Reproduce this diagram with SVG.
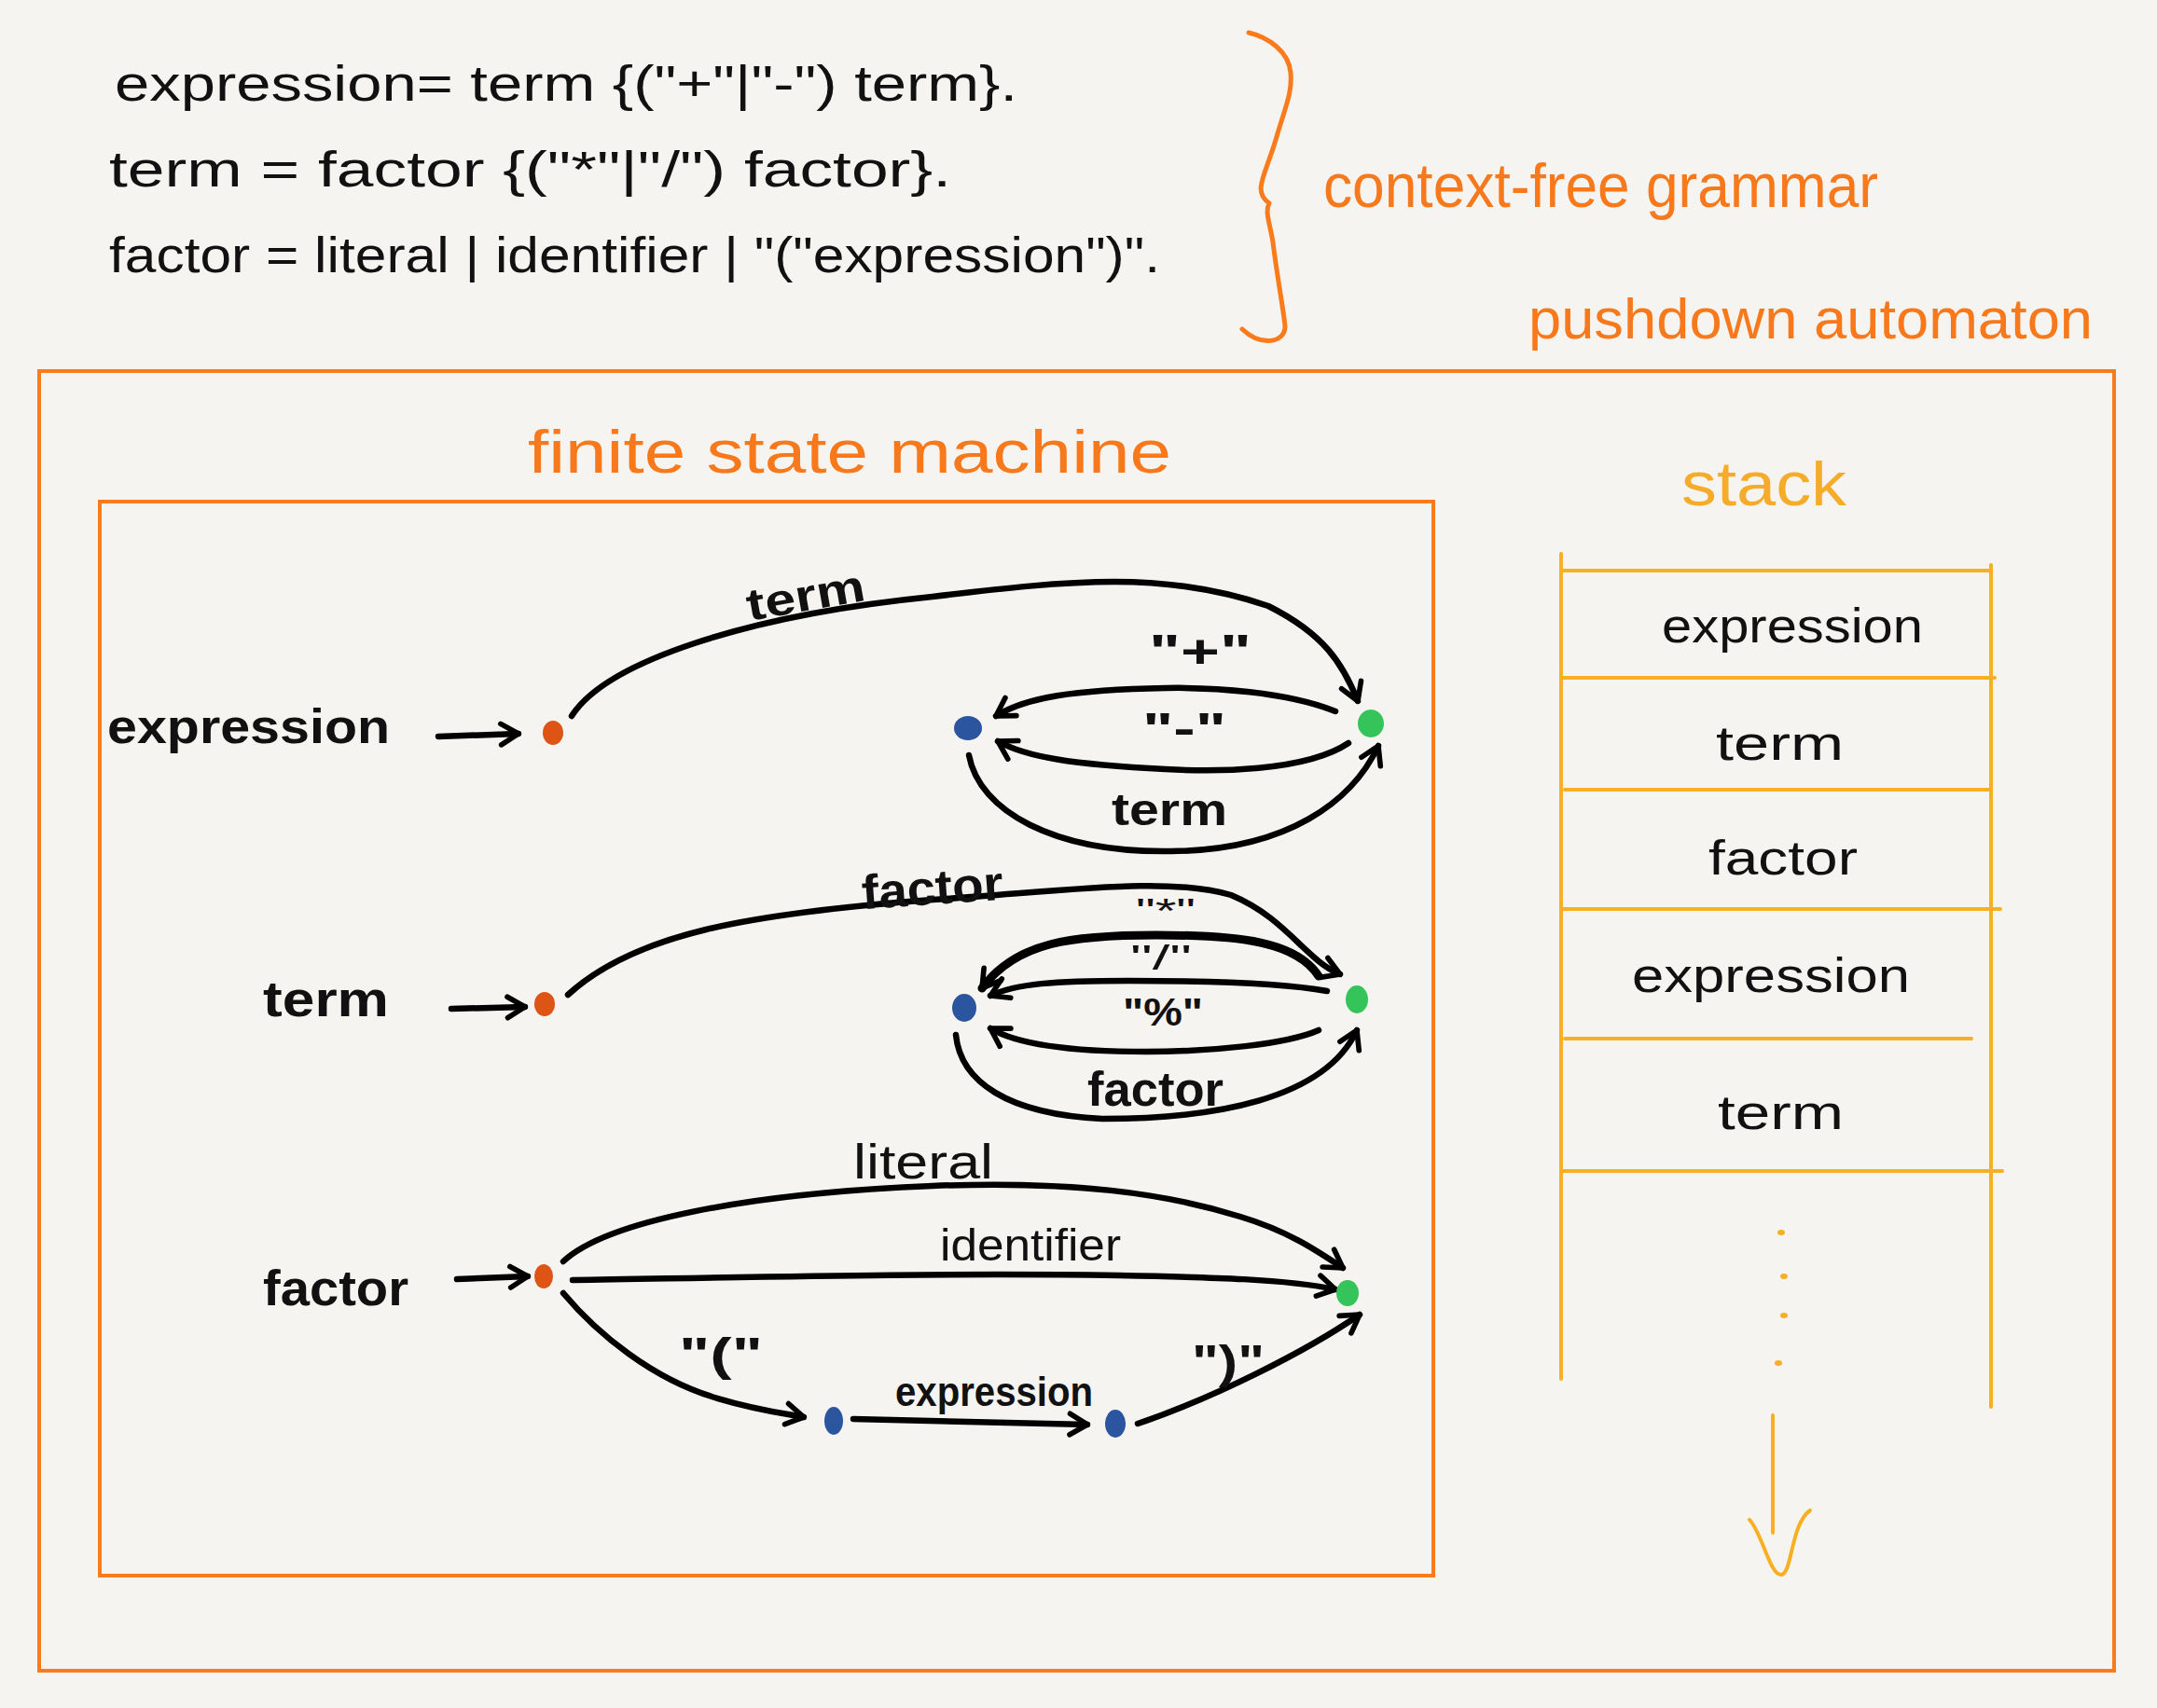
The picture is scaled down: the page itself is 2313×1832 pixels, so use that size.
<svg xmlns="http://www.w3.org/2000/svg" width="2313" height="1832" viewBox="0 0 2313 1832">
  <style>
    .hand { font-family: "Liberation Sans", "DejaVu Sans", sans-serif; }
    .blk { fill: #111; }
    .bold { font-weight: bold; }
    .org { fill: #f7791c; }
    .yel { fill: #f5ac2a; }
    .box { fill: none; stroke: #f97b1b; stroke-width: 4; }
    .stk { fill: none; stroke: #f7b024; stroke-width: 4; stroke-linecap: round; }
    .edge { fill: none; stroke: #000; stroke-width: 6.5; stroke-linecap: round; stroke-linejoin: round; marker-end: url(#ah); }
    .st-start { fill: #dd5414; }
    .st-mid { fill: #2b559e; }
    .st-end { fill: #35c45a; }
  </style>
  <defs>
    <marker id="ah" viewBox="0 0 24 24" refX="20" refY="12" markerWidth="30" markerHeight="30" markerUnits="userSpaceOnUse" orient="auto">
      <path d="M5,3 L20,12 L5,21" fill="none" stroke="#000" stroke-width="4.5" stroke-linecap="round" stroke-linejoin="round"/>
    </marker>
  </defs>
  <rect x="0" y="0" width="2313" height="1832" fill="#f5f4f0"/>

  <g id="grammar" class="hand blk" font-size="54">
    <text x="123" y="108" textLength="968" lengthAdjust="spacingAndGlyphs">expression= term {("+"|"-") term}.</text>
    <text x="117" y="200" textLength="903" lengthAdjust="spacingAndGlyphs">term = factor {("*"|"/") factor}.</text>
    <text x="117" y="292" textLength="1127" lengthAdjust="spacingAndGlyphs">factor = literal | identifier | "("expression")".</text>
  </g>

  <g id="brace">
    <path d="M1339,35 C1360,40 1382,55 1384,78 C1386,100 1378,115 1368,150 C1356,190 1343,205 1361,218 C1356,228 1362,240 1365,260 C1370,300 1376,330 1378,350 C1378,368 1352,372 1332,353" fill="none" stroke="#f97b1b" stroke-width="5" stroke-linecap="round" stroke-linejoin="round"/>
  </g>

  <g id="labels" class="hand">
    <text class="org" x="1419" y="222" font-size="66" textLength="595" lengthAdjust="spacingAndGlyphs">context-free grammar</text>
    <text class="org" x="1639" y="363" font-size="62" textLength="605" lengthAdjust="spacingAndGlyphs">pushdown automaton</text>
    <text class="org" x="566" y="507" font-size="64" textLength="690" lengthAdjust="spacingAndGlyphs">finite state machine</text>
    <text class="yel" x="1803" y="542" font-size="66" textLength="177" lengthAdjust="spacingAndGlyphs">stack</text>
  </g>

  <g id="pushdown-box">
    <rect class="box" x="42" y="398" width="2225" height="1394"/>
  </g>
  <g id="fsm-box">
    <rect class="box" x="107" y="538" width="1430" height="1152"/>
  </g>

  <g id="connectors">
    <!-- expression row -->
    <path class="edge" d="M470,790 L556,787"/>
    <path class="edge" d="M613,768 C650,710 800,660 1000,640 C1150,622 1250,612 1360,650 C1420,680 1440,712 1456,752"/>
    <path class="edge" d="M1432,763 C1380,742 1300,737 1250,738 C1150,740 1100,748 1068,768"/>
    <path class="edge" d="M1446,797 C1400,828 1300,828 1250,825 C1150,820 1100,812 1070,795"/>
    <path class="edge" d="M1039,810 C1050,870 1130,915 1256,913 C1380,912 1450,860 1478,800"/>
    <!-- term row -->
    <path class="edge" d="M484,1082 L563,1080"/>
    <path class="edge" d="M609,1067 C680,1002 800,980 1000,965 C1150,955 1250,940 1320,960 C1380,985 1400,1030 1437,1045"/>
    <path class="edge" style="stroke-width:9" d="M1414,1047 C1390,1010 1330,1003 1240,1003 C1150,1003 1090,1010 1053,1060"/>
    <path class="edge" d="M1423,1063 C1380,1055 1300,1052 1210,1052 C1130,1052 1090,1055 1062,1068"/>
    <path class="edge" d="M1414,1105 C1380,1120 1300,1128 1229,1128 C1150,1128 1090,1120 1062,1103"/>
    <path class="edge" d="M1025,1110 C1030,1160 1080,1195 1182,1200 C1300,1200 1420,1180 1455,1105"/>
    <!-- factor row -->
    <path class="edge" d="M490,1372 L566,1369"/>
    <path class="edge" d="M604,1353 C650,1310 800,1280 1000,1272 C1150,1266 1250,1280 1330,1305 C1380,1320 1410,1340 1440,1360"/>
    <path class="edge" d="M614,1373 C800,1370 1000,1365 1200,1368 C1300,1370 1380,1372 1432,1383"/>
    <path class="edge" d="M604,1387 C640,1430 700,1480 770,1500 C810,1512 840,1516 862,1520"/>
    <path class="edge" d="M915,1522 L1166,1528"/>
    <path class="edge" d="M1220,1527 C1300,1500 1400,1450 1458,1410"/>
  </g>

  <g id="edge-labels" class="hand blk">
    <text class="bold" x="800" y="655" font-size="48" textLength="128" lengthAdjust="spacingAndGlyphs" transform="rotate(-10 864 640)">term</text>
    <text class="bold" x="1232" y="716" font-size="50" textLength="110" lengthAdjust="spacingAndGlyphs">"+"</text>
    <text class="bold" x="1225" y="798" font-size="48" textLength="90" lengthAdjust="spacingAndGlyphs">"-"</text>
    <text class="bold" x="1192" y="885" font-size="48" textLength="124" lengthAdjust="spacingAndGlyphs">term</text>
    <text class="bold" x="924" y="970" font-size="52" textLength="152" lengthAdjust="spacingAndGlyphs" transform="rotate(-4 1000 955)">factor</text>
    <text x="1218" y="990" font-size="36" textLength="64" lengthAdjust="spacingAndGlyphs">"*"</text>
    <text x="1212" y="1040" font-size="36" textLength="66" lengthAdjust="spacingAndGlyphs">"/"</text>
    <text class="bold" x="1204" y="1100" font-size="42" textLength="86" lengthAdjust="spacingAndGlyphs">"%"</text>
    <text class="bold" x="1166" y="1186" font-size="52" textLength="146" lengthAdjust="spacingAndGlyphs">factor</text>
    <text x="915" y="1264" font-size="52" textLength="150" lengthAdjust="spacingAndGlyphs">literal</text>
    <text x="1008" y="1352" font-size="48" textLength="194" lengthAdjust="spacingAndGlyphs">identifier</text>
    <text class="bold" x="728" y="1470" font-size="50" textLength="90" lengthAdjust="spacingAndGlyphs">"("</text>
    <text class="bold" x="960" y="1508" font-size="44" textLength="212" lengthAdjust="spacingAndGlyphs">expression</text>
    <text class="bold" x="1278" y="1478" font-size="50" textLength="78" lengthAdjust="spacingAndGlyphs">")"</text>
  </g>

  <g id="node-expression" class="hand blk bold">
    <text x="115" y="797" font-size="52" textLength="303" lengthAdjust="spacingAndGlyphs">expression</text>
  </g>
  <g id="node-term" class="hand blk bold">
    <text x="282" y="1090" font-size="54" textLength="135" lengthAdjust="spacingAndGlyphs">term</text>
  </g>
  <g id="node-factor" class="hand blk bold">
    <text x="282" y="1400" font-size="54" textLength="156" lengthAdjust="spacingAndGlyphs">factor</text>
  </g>

  <g id="states">
    <g id="s-expr-start"><ellipse class="st-start" cx="593" cy="786" rx="11" ry="13"/></g>
    <g id="s-expr-mid"><ellipse class="st-mid" cx="1038" cy="781" rx="15" ry="13"/></g>
    <g id="s-expr-end"><ellipse class="st-end" cx="1470" cy="776" rx="14" ry="15"/></g>
    <g id="s-term-start"><ellipse class="st-start" cx="584" cy="1077" rx="11" ry="13"/></g>
    <g id="s-term-mid"><ellipse class="st-mid" cx="1034" cy="1081" rx="13" ry="15"/></g>
    <g id="s-term-end"><ellipse class="st-end" cx="1455" cy="1072" rx="12" ry="15"/></g>
    <g id="s-factor-start"><ellipse class="st-start" cx="583" cy="1369" rx="10" ry="13"/></g>
    <g id="s-factor-end"><ellipse class="st-end" cx="1445" cy="1387" rx="12" ry="14"/></g>
    <g id="s-factor-mid1"><ellipse class="st-mid" cx="894" cy="1524" rx="10" ry="15"/></g>
    <g id="s-factor-mid2"><ellipse class="st-mid" cx="1196" cy="1527" rx="11" ry="15"/></g>
  </g>

  <g id="stack">
    <line class="stk" x1="1674" y1="594" x2="1674" y2="1479"/>
    <line class="stk" x1="2135" y1="606" x2="2135" y2="1509"/>
    <line class="stk" x1="1676" y1="612" x2="2134" y2="612"/>
    <line class="stk" x1="1676" y1="727" x2="2139" y2="727"/>
    <line class="stk" x1="1678" y1="847" x2="2134" y2="847"/>
    <line class="stk" x1="1676" y1="975" x2="2145" y2="975"/>
    <line class="stk" x1="1678" y1="1114" x2="2114" y2="1114"/>
    <line class="stk" x1="1676" y1="1256" x2="2147" y2="1256"/>
    <g class="hand blk" font-size="52">
      <text x="1782" y="689" textLength="280" lengthAdjust="spacingAndGlyphs">expression</text>
      <text x="1840" y="815" textLength="137" lengthAdjust="spacingAndGlyphs">term</text>
      <text x="1832" y="938" textLength="160" lengthAdjust="spacingAndGlyphs">factor</text>
      <text x="1750" y="1064" textLength="298" lengthAdjust="spacingAndGlyphs">expression</text>
      <text x="1842" y="1211" textLength="135" lengthAdjust="spacingAndGlyphs">term</text>
    </g>
    <g fill="#f7b024">
      <ellipse cx="1910" cy="1322" rx="4" ry="3"/>
      <ellipse cx="1913" cy="1369" rx="4" ry="3"/>
      <ellipse cx="1913" cy="1411" rx="4" ry="3"/>
      <ellipse cx="1907" cy="1462" rx="4" ry="3"/>
    </g>
    <line class="stk" x1="1901" y1="1518" x2="1901" y2="1644"/>
    <path class="stk" d="M1876,1630 C1890,1645 1898,1690 1910,1689 C1922,1688 1920,1635 1941,1620"/>
  </g>
</svg>
